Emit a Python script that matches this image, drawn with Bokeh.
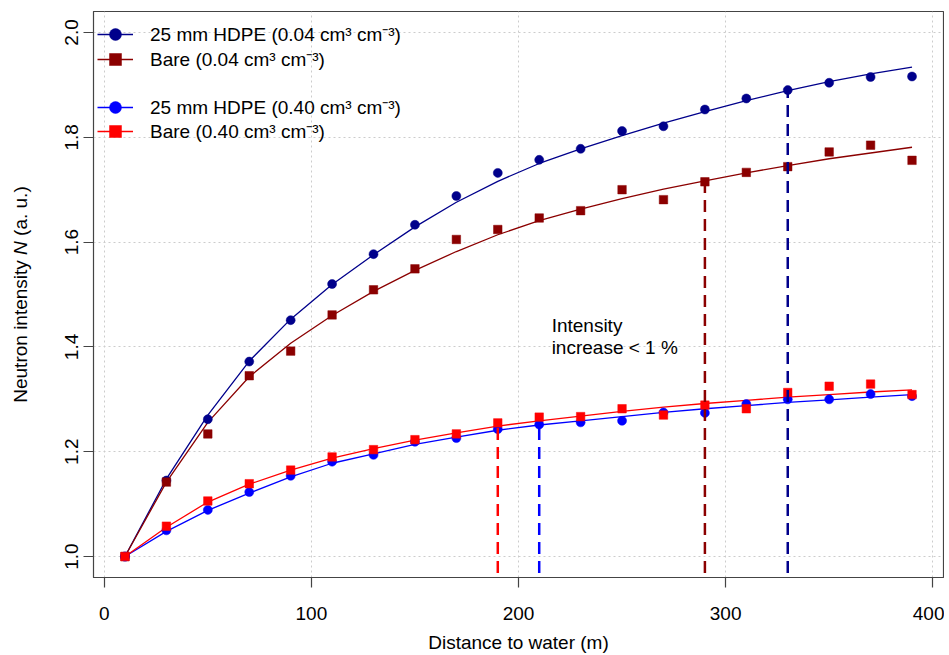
from bokeh.plotting import figure
from bokeh.models import Range1d, Legend, LegendItem
from bokeh.layouts import row
from bokeh.core.properties import value
from bokeh.embed import file_html
from bokeh.resources import INLINE

# ---------------- data ----------------
distance = [10, 30, 50, 70, 90, 110, 130, 150, 170, 190, 210, 230, 250, 270, 290, 310, 330, 350, 370, 390]

hdpe_004 = [1.000, 1.145, 1.262, 1.372, 1.451, 1.520, 1.577, 1.633, 1.688, 1.732, 1.757, 1.778, 1.812, 1.821,
            1.853, 1.874, 1.890, 1.904, 1.915, 1.916]
bare_004 = [1.000, 1.142, 1.234, 1.345, 1.392, 1.461, 1.509, 1.549, 1.605, 1.624, 1.646, 1.660, 1.700, 1.681,
            1.715, 1.733, 1.744, 1.772, 1.785, 1.756]
hdpe_040 = [1.000, 1.050, 1.089, 1.123, 1.154, 1.181, 1.194, 1.219, 1.226, 1.243, 1.252, 1.256, 1.259, 1.275,
            1.274, 1.291, 1.300, 1.300, 1.310, 1.306]
bare_040 = [1.000, 1.058, 1.106, 1.139, 1.165, 1.190, 1.204, 1.223, 1.234, 1.255, 1.266, 1.267, 1.282, 1.270,
            1.289, 1.282, 1.313, 1.325, 1.329, 1.309]

# fitted curves
fit_hdpe_004 = [1.000, 1.148, 1.270, 1.373, 1.453, 1.519, 1.576, 1.629, 1.676, 1.716, 1.750, 1.778, 1.803, 1.827,
                1.849, 1.870, 1.889, 1.906, 1.921, 1.934]
fit_bare_004 = [1.000, 1.142, 1.256, 1.343, 1.407, 1.460, 1.506, 1.546, 1.582, 1.614, 1.641, 1.663, 1.683, 1.701,
                1.717, 1.732, 1.746, 1.759, 1.770, 1.781]
fit_hdpe_040 = [1.000, 1.048, 1.088, 1.121, 1.152, 1.178, 1.196, 1.214, 1.228, 1.241, 1.251, 1.259, 1.267, 1.275,
                1.282, 1.288, 1.294, 1.299, 1.304, 1.309]
fit_bare_040 = [1.000, 1.056, 1.104, 1.138, 1.165, 1.188, 1.206, 1.222, 1.236, 1.249, 1.259, 1.268, 1.277, 1.285,
                1.292, 1.298, 1.304, 1.309, 1.314, 1.318]

# distance where intensity increase < 1 %
thresh_x = [330, 290, 210, 190]

series_labels = ["25 mm HDPE (0.04 cm\u00b3 cm\u207b\u00b3)", "Bare (0.04 cm\u00b3 cm\u207b\u00b3)",
                 "25 mm HDPE (0.40 cm\u00b3 cm\u207b\u00b3)", "Bare (0.40 cm\u00b3 cm\u207b\u00b3)"]
colors = ["#00008B", "#8B0000", "#0000FF", "#FF0000"]

x_ticks = [0, 100, 200, 300, 400]
y_ticks = [1.0, 1.2, 1.4, 1.6, 1.8, 2.0]
y_tick_labels = ["1.0", "1.2", "1.4", "1.6", "1.8", "2.0"]

note_lines = ["Intensity", "increase < 1 %"]
x_title = "Distance to water (m)"
y_title_parts = ["Neutron intensity", "N", "(a. u.)"]
y_title_styles = ["normal", "italic", "normal"]

FONT = "Liberation Sans"
FS = "19px"
EM = 19.0
AX = "#444444"

X_MIN, X_MAX = -5.2, 405.2
Y_MIN, Y_MAX = 0.96, 2.04

H = 655
TW = 38          # width of the strip holding the y-axis title
TOTAL_W = 944
TOP, BOTTOM = 11, 78

# ---------------- main plot ----------------
p = figure(width=TOTAL_W - TW, height=H, output_backend="svg", toolbar_location=None, title=None,
           x_range=Range1d(X_MIN, X_MAX), y_range=Range1d(Y_MIN, Y_MAX),
           min_border_left=93 - TW, min_border_right=1, min_border_top=TOP, min_border_bottom=BOTTOM)
p.background_fill_color = "white"
p.border_fill_color = "white"
p.outline_line_color = AX
p.outline_line_width = 1.2

p.xaxis.ticker = x_ticks
p.yaxis.ticker = y_ticks
p.yaxis.major_label_overrides = {t: s for t, s in zip(y_ticks, y_tick_labels)}
for ax in (p.xaxis[0], p.yaxis[0]):
    ax.axis_line_color = AX
    ax.major_tick_line_color = AX
    ax.major_tick_line_width = 1.2
    ax.major_tick_out = 10
    ax.major_tick_in = 0
    ax.minor_tick_line_color = None
    ax.major_label_text_font = FONT
    ax.major_label_text_font_size = FS
    ax.major_label_text_color = "black"
p.xaxis.major_label_standoff = 19
p.xaxis.axis_label = x_title
p.xaxis.axis_label_text_font = FONT
p.xaxis.axis_label_text_font_size = FS
p.xaxis.axis_label_text_font_style = "normal"
p.xaxis.axis_label_text_color = "black"
p.xaxis.axis_label_standoff = 9
p.yaxis.major_label_orientation = "vertical"
p.yaxis.major_label_standoff = 5

for g in (p.xgrid[0], p.ygrid[0]):
    g.grid_line_color = "#cccccc"
    g.grid_line_dash = "2 3"
    g.grid_line_width = 1

points = [hdpe_004, bare_004, hdpe_040, bare_040]
fits = [fit_hdpe_004, fit_bare_004, fit_hdpe_040, fit_bare_040]
markers = ["circle", "square", "circle", "square"]
sizes = [9, 8.5, 9, 8.5]

line_rs, pt_rs = [], []
for fy, c in zip(fits, colors):
    line_rs.append(p.line(distance, fy, line_color=c, line_width=1.3))
for py_, c, m, s in zip(points, colors, markers, sizes):
    pt_rs.append(p.scatter(distance, py_, marker=m, size=s, fill_color=c, line_color=c, line_width=0.5))

thresh_y = [f[distance.index(tx)] for f, tx in zip(fits, thresh_x)]
p.segment(x0=thresh_x, y0=[Y_MIN - 0.1] * 4, x1=thresh_x, y1=thresh_y,
          line_color=colors, line_width=2.5, line_dash="12 7")

p.text(x=[216, 216], y=[1.44, 1.398], text=note_lines, text_font=value(FONT), text_font_size=FS,
       text_color="black", text_align="left", text_baseline="alphabetic")

frame_h = H - TOP - BOTTOM
ROW_H = 30
legend_row_centers = [23.3, 48.3, 95.7, 119.7]   # px below the top of the frame

for i, cy in enumerate(legend_row_centers):
    lg = Legend(items=[LegendItem(label=series_labels[i], renderers=[line_rs[i], pt_rs[i]])],
                location=(4, frame_h - cy - ROW_H / 2), orientation="vertical",
                glyph_width=36, glyph_height=ROW_H, label_height=ROW_H, label_standoff=17, spacing=0,
                padding=0, margin=0, background_fill_alpha=0, border_line_alpha=0,
                label_text_font=FONT, label_text_font_size=FS, label_text_color="black")
    p.add_layout(lg)

# ---------------- y-axis title strip (frame aligned with the main frame) ----------------
t = figure(width=TW, height=H, output_backend="svg", toolbar_location=None, title=None,
           x_axis_location=None, y_axis_location=None,
           x_range=Range1d(0, TW), y_range=Range1d(0, frame_h),
           min_border_left=0, min_border_right=0, min_border_top=TOP, min_border_bottom=BOTTOM)
t.grid.visible = False
t.outline_line_color = None
t.background_fill_color = "white"
t.border_fill_color = "white"

widths = [w_em * EM for w_em in (7.503, 0.722, 2.612)]
space = 0.278 * EM
total = sum(widths) + 2 * space
pos = frame_h / 2 - total / 2
for txt, w, st in zip(y_title_parts, widths, y_title_styles):
    t.text(x=[20], y=[pos], text=[txt], angle=1.5707963, text_font=value(FONT), text_font_size=FS,
           text_font_style=st, text_color="black", text_align="left", text_baseline="middle")
    pos += w + space

layout = row(t, p, spacing=0)
html = file_html(layout, INLINE)
open("out.html", "w").write(html)
